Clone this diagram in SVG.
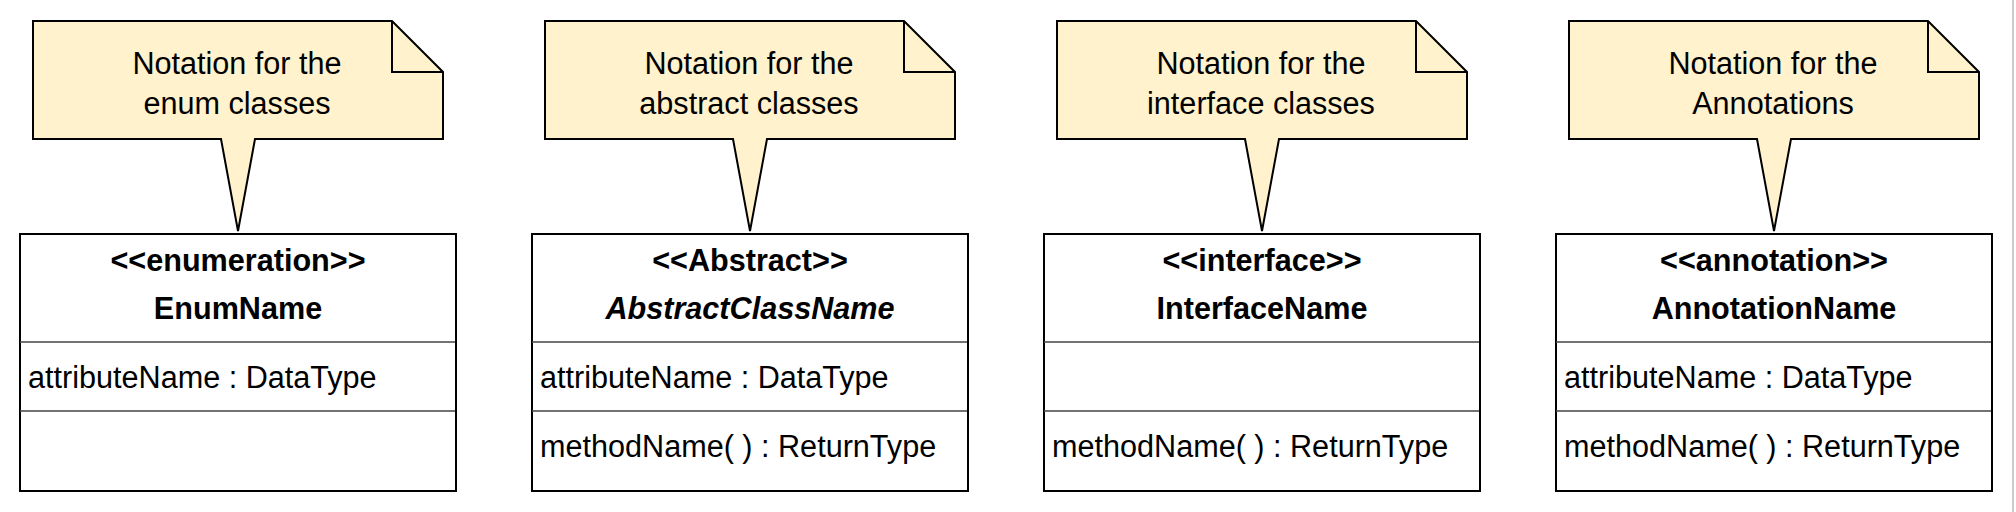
<svg xmlns="http://www.w3.org/2000/svg" width="2016" height="512" viewBox="0 0 2016 512">
<style>
.note{fill:#FFF2CC;stroke:#000;stroke-width:2;stroke-linejoin:miter}
.fold{fill:none;stroke:#000;stroke-width:2}
.box{fill:#fff;stroke:#000;stroke-width:2}
.div{stroke:#444;stroke-width:1.5}
text{font-family:"Liberation Sans",Arial,Helvetica,sans-serif;font-size:30.6px;fill:#000}
.c{text-anchor:middle}
.b{font-weight:bold}
.bi{font-weight:bold;font-style:italic}
</style>
<rect width="2016" height="512" fill="#fff"/>
<g id="note-enum">
<path class="note" d="M33,21 H392 L443,72 V139 H255 L238,231 L221,139 H33 Z"/>
<path class="fold" d="M392,21 V72 H443"/>
<text class="c" x="237" y="73.5">Notation for the</text>
<text class="c" x="237" y="113.5">enum classes</text>
</g>
<g id="note-abstract">
<path class="note" d="M545,21 H904 L955,72 V139 H767 L750,231 L733,139 H545 Z"/>
<path class="fold" d="M904,21 V72 H955"/>
<text class="c" x="749" y="73.5">Notation for the</text>
<text class="c" x="749" y="113.5">abstract classes</text>
</g>
<g id="note-interface">
<path class="note" d="M1057,21 H1416 L1467,72 V139 H1279 L1262,231 L1245,139 H1057 Z"/>
<path class="fold" d="M1416,21 V72 H1467"/>
<text class="c" x="1261" y="73.5">Notation for the</text>
<text class="c" x="1261" y="113.5">interface classes</text>
</g>
<g id="note-annotation">
<path class="note" d="M1569,21 H1928 L1979,72 V139 H1791 L1774,231 L1757,139 H1569 Z"/>
<path class="fold" d="M1928,21 V72 H1979"/>
<text class="c" x="1773" y="73.5">Notation for the</text>
<text class="c" x="1773" y="113.5">Annotations</text>
</g>
<g id="class-enum">
<rect class="box" x="20" y="234" width="436" height="257"/>
<line class="div" x1="20" y1="342" x2="455" y2="342"/>
<line class="div" x1="20" y1="411" x2="455" y2="411"/>
<text class="c b" x="238" y="270.5">&lt;&lt;enumeration&gt;&gt;</text>
<text class="c b" x="238" y="318.5">EnumName</text>
<text x="28" y="387.5">attributeName : DataType</text>
</g>
<g id="class-abstract">
<rect class="box" x="532" y="234" width="436" height="257"/>
<line class="div" x1="532" y1="342" x2="967" y2="342"/>
<line class="div" x1="532" y1="411" x2="967" y2="411"/>
<text class="c b" x="750" y="270.5">&lt;&lt;Abstract&gt;&gt;</text>
<text class="c bi" x="750" y="318.5">AbstractClassName</text>
<text x="540" y="387.5">attributeName : DataType</text>
<text x="540" y="456.5">methodName( ) : ReturnType</text>
</g>
<g id="class-interface">
<rect class="box" x="1044" y="234" width="436" height="257"/>
<line class="div" x1="1044" y1="342" x2="1479" y2="342"/>
<line class="div" x1="1044" y1="411" x2="1479" y2="411"/>
<text class="c b" x="1262" y="270.5">&lt;&lt;interface&gt;&gt;</text>
<text class="c b" x="1262" y="318.5">InterfaceName</text>
<text x="1052" y="456.5">methodName( ) : ReturnType</text>
</g>
<g id="class-annotation">
<rect class="box" x="1556" y="234" width="436" height="257"/>
<line class="div" x1="1556" y1="342" x2="1991" y2="342"/>
<line class="div" x1="1556" y1="411" x2="1991" y2="411"/>
<text class="c b" x="1774" y="270.5">&lt;&lt;annotation&gt;&gt;</text>
<text class="c b" x="1774" y="318.5">AnnotationName</text>
<text x="1564" y="387.5">attributeName : DataType</text>
<text x="1564" y="456.5">methodName( ) : ReturnType</text>
</g>
<g id="connectors"></g>
<line x1="2013" y1="0" x2="2013" y2="512" stroke="#999" stroke-width="1"/>
</svg>
